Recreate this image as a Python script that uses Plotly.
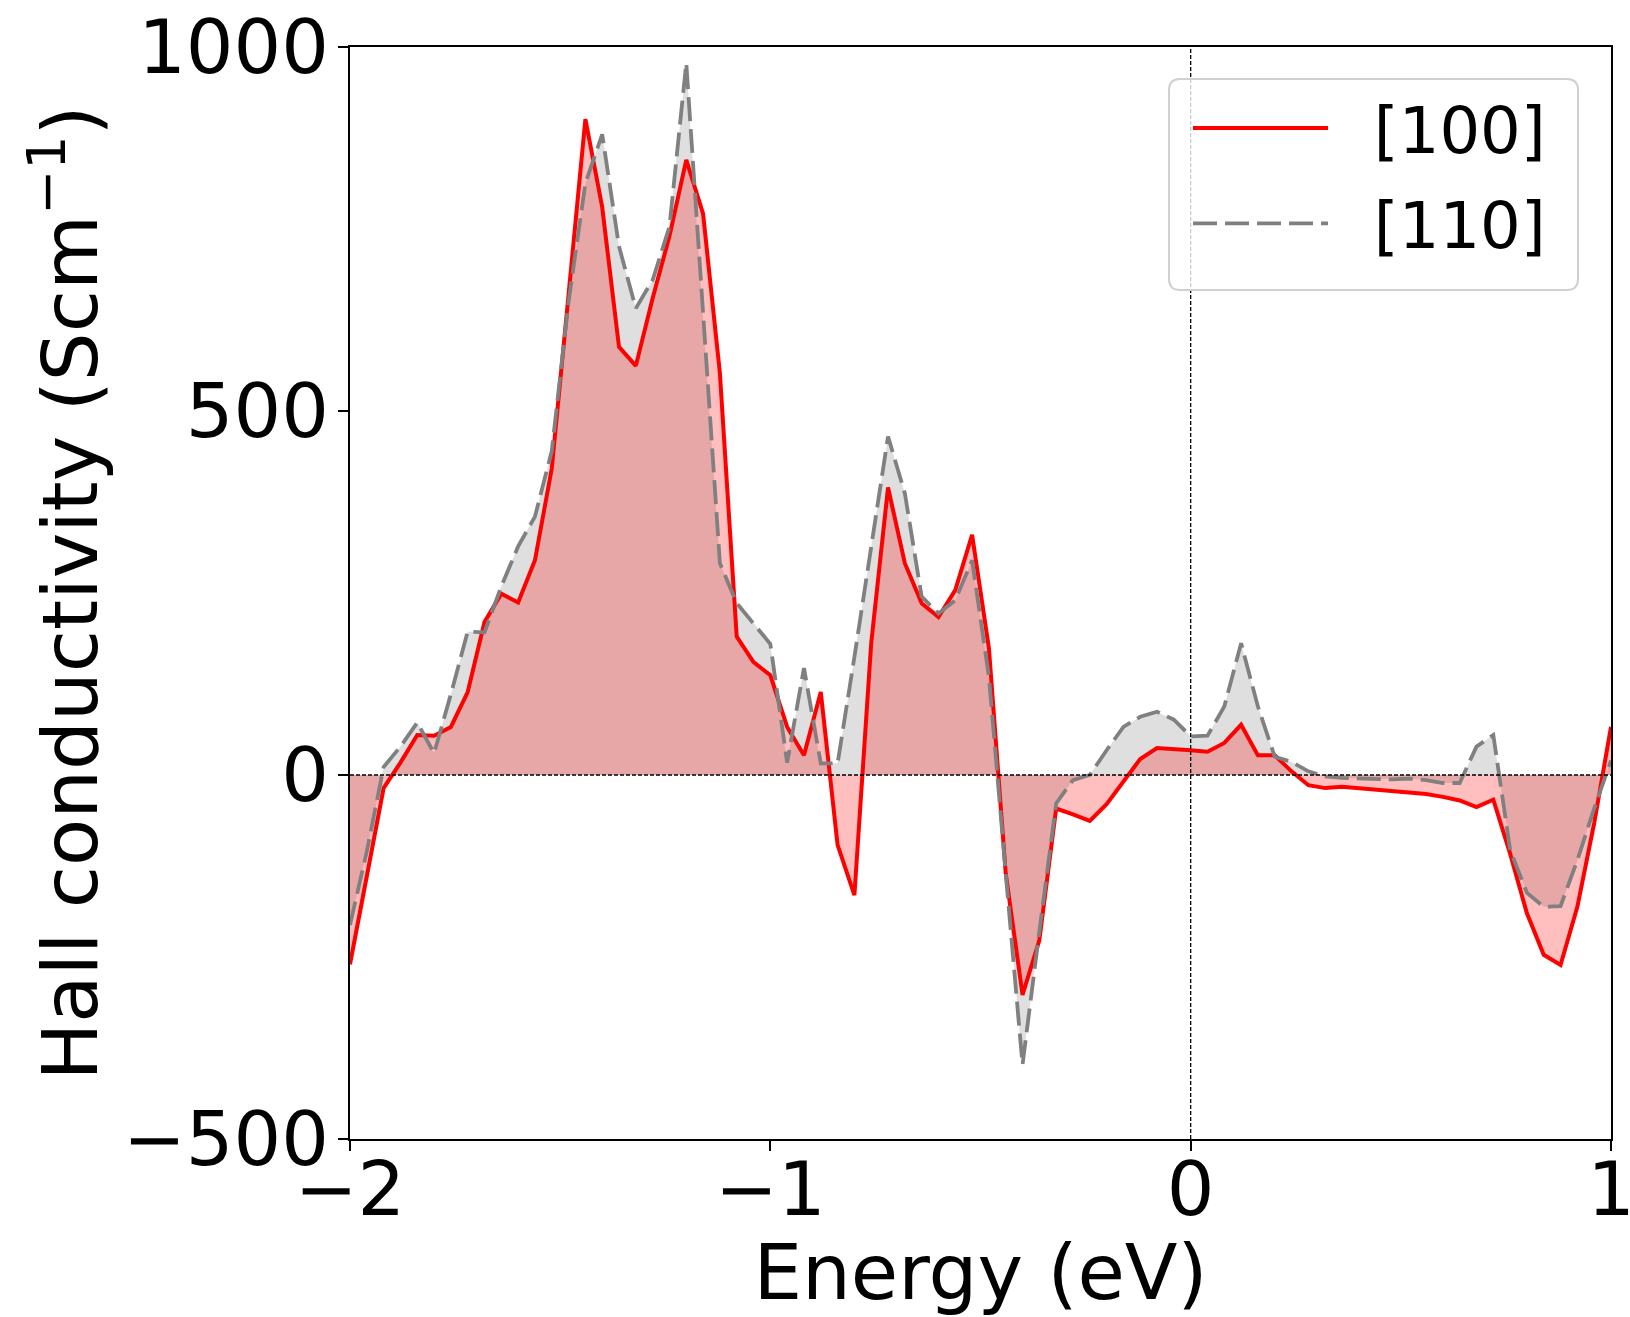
import numpy as np
import plotly.graph_objects as go

# Energy grid (eV)
energy = np.round(np.linspace(-2.0, 1.0, 76), 2)

# Hall conductivity (S/cm) along [100]
sigma_100 = [
    -260, -140, -18, 17, 55, 54, 66, 114, 210, 249,
    237, 295, 421, 660, 901, 780, 588, 562, 655, 740,
    845, 771, 552, 190, 155, 137, 66, 27, 114, -96,
    -165, 181, 395, 291, 236, 217, 254, 330, 174, -135,
    -302, -227, -46, -54, -63, -40, -8, 22, 37, 36,
    34, 32, 44, 69, 27, 27, 5, -14, -18, -16,
    -18, -21, -22, -24, -26, -30, -35, -44, -34, -108,
    -190, -247, -261, -181, -66, 66,
]

# Hall conductivity (S/cm) along [110]
sigma_110 = [
    -206, -105, 11, 39, 72, 30, 111, 197, 196, 259,
    314, 355, 445, 650, 813, 880, 726, 641, 680, 753,
    978, 625, 291, 236, 209, 180, 17, 147, 16, 16,
    162, 312, 465, 387, 245, 222, 240, 295, 135, -135,
    -398, -215, -39, -7, 0, 34, 66, 80, 87, 76,
    53, 54, 94, 181, 94, 25, 18, 5, -2, -4,
    -5, -5, -6, -5, -7, -11, -11, 39, 55, -103,
    -162, -181, -180, -117, -46, 20,
]

labels = ["[100]", "[110]"]
x_ticks = [-2, -1, 0, 1]
x_ticktext = ["\u22122", "\u22121", "0", "1"]
y_ticks = [-500, 0, 500, 1000]
y_ticktext = ["\u2212500", "0", "500", "1000"]

FONT = "DejaVu Sans"
W, H = 1630, 1317
ML, MR, MT, MB = 350, 19, 47, 178
PW, PH = W - ML - MR, H - MT - MB


def px2paper(px, py):
    return (px - ML) / PW, (H - MB - py) / PH


def rounded_rect(x0, y0, x1, y1, r):
    def p(x, y):
        a, b = px2paper(x, y)
        return f"{a:.5f},{b:.5f}"
    return (f"M{p(x0 + r, y0)} L{p(x1 - r, y0)} Q{p(x1, y0)} {p(x1, y0 + r)} "
            f"L{p(x1, y1 - r)} Q{p(x1, y1)} {p(x1 - r, y1)} "
            f"L{p(x0 + r, y1)} Q{p(x0, y1)} {p(x0, y1 - r)} "
            f"L{p(x0, y0 + r)} Q{p(x0, y0)} {p(x0 + r, y0)} Z")


fig = go.Figure()

# fills (gray first, red on top)
fig.add_trace(go.Scatter(
    x=energy, y=sigma_110, mode="lines", line=dict(width=0),
    fill="tozeroy", fillcolor="rgba(128,128,128,0.25)",
    showlegend=False, hoverinfo="skip"))
fig.add_trace(go.Scatter(
    x=energy, y=sigma_100, mode="lines", line=dict(width=0),
    fill="tozeroy", fillcolor="rgba(255,0,0,0.25)",
    showlegend=False, hoverinfo="skip"))

# lines
fig.add_trace(go.Scatter(
    x=energy, y=sigma_100, mode="lines", name="\u00a0\u00a0" + labels[0],
    legendgroup="a", line=dict(color="red", width=4)))
fig.add_trace(go.Scatter(
    x=energy, y=sigma_110, mode="lines", name="\u00a0\u00a0" + labels[1],
    legendgroup="b", line=dict(color="gray", width=3.8, dash="24px,8px")))

# reference dashed lines
fig.add_shape(type="line", xref="paper", yref="y", x0=0, x1=1, y0=0, y1=0,
              line=dict(color="black", width=1.3, dash="4px,2px"), layer="above")
fig.add_shape(type="line", xref="x", yref="paper", x0=0, x1=0, y0=0, y1=1,
              line=dict(color="black", width=1.3, dash="4px,2px"), layer="above")

# legend frame (rounded, semi-transparent)
fig.add_shape(type="path", xref="paper", yref="paper",
              path=rounded_rect(1169, 79, 1578, 290, 11),
              fillcolor="rgba(255,255,255,0.8)",
              line=dict(color="#d0d0d0", width=2), layer="above")

axis_common = dict(
    showline=True, mirror=True, linecolor="black", linewidth=2,
    ticks="outside", ticklen=10, tickwidth=2, tickcolor="black",
    showgrid=False, zeroline=False, automargin=False,
    tickfont=dict(family=FONT, size=75, color="black"),
)

lx, ly = px2paper(1188, 80)

fig.update_layout(
    width=W, height=H,
    margin=dict(l=ML, r=MR, t=MT, b=MB),
    paper_bgcolor="white", plot_bgcolor="white",
    font=dict(family=FONT, color="black"),
    xaxis=dict(range=[-2, 1], tickvals=x_ticks, ticktext=x_ticktext,
               ticklabeloverflow="allow", ticklabelstandoff=-26,
               title=dict(text="Energy (eV)", font=dict(family=FONT, size=77), standoff=6),
               **axis_common),
    yaxis=dict(range=[-500, 1000], tickvals=y_ticks, ticktext=y_ticktext,
               ticklabeloverflow="allow", ticklabelstandoff=-6,
               title=dict(text="Hall conductivity (Scm<sup>\u22121</sup>)",
                          font=dict(family=FONT, size=77), standoff=0),
               **axis_common),
    legend=dict(x=lx, xanchor="left", y=ly, yanchor="top",
                bgcolor="rgba(0,0,0,0)", borderwidth=0,
                font=dict(family=FONT, size=64, color="black"),
                itemwidth=135, tracegroupgap=9),
)

fig.write_html("out.html")
